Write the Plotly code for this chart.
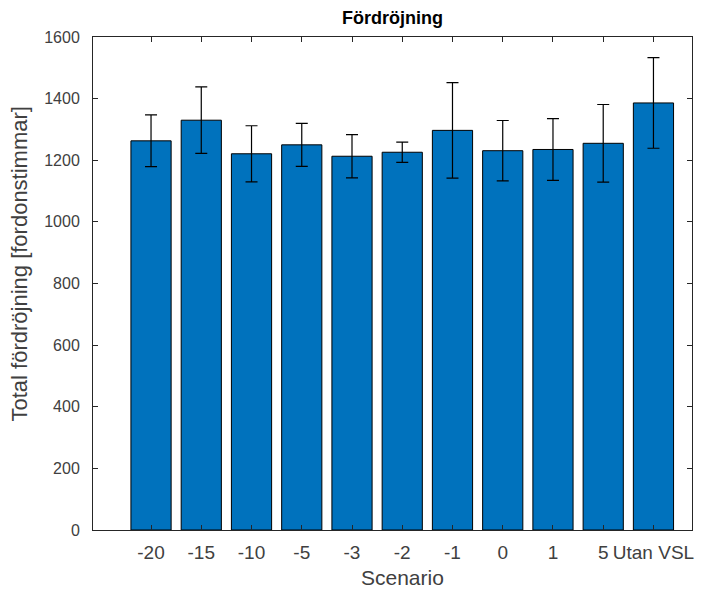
import plotly.graph_objects as go

scenarios = ["-20", "-15", "-10", "-5", "-3", "-2", "-1", "0", "1", "5", "Utan VSL"]
delay = [1263, 1330, 1221, 1250, 1213, 1226, 1297, 1231, 1235, 1255, 1386]
delay_err = [84, 108, 91, 70, 70, 33, 155, 98, 100, 126, 147]
y_ticks = [0, 200, 400, 600, 800, 1000, 1200, 1400, 1600]

axis_color = "#262626"
label_color = "#404040"
font_family = "Liberation Sans, Arial, sans-serif"

fig = go.Figure()
fig.add_trace(go.Bar(
    x=scenarios,
    y=delay,
    width=0.8,
    marker=dict(color="#0072BD", line=dict(color="black", width=1)),
    error_y=dict(type="data", array=delay_err, visible=True,
                 color="black", thickness=1.2, width=6),
    showlegend=False,
))

fig.update_layout(
    width=705, height=589,
    margin=dict(l=93, r=13, t=37, b=59),
    paper_bgcolor="white", plot_bgcolor="white",
    font=dict(family=font_family, color=label_color, size=17),
    title=dict(text="<b>Fördröjning</b>", x=0.5, xref="paper", xanchor="center",
               y=1 - 18 / 589, yref="container", yanchor="middle",
               font=dict(size=18, color="black")),
    bargap=0.2,
    annotations=[
        dict(text="Scenario", xref="paper", yref="paper", x=0.5, y=0,
             xanchor="center", yanchor="middle", xshift=10, yshift=-47,
             showarrow=False, font=dict(size=21, color=label_color)),
        dict(text="Total fördröjning [fordonstimmar]", xref="paper", yref="paper",
             x=0, y=0.5385, xanchor="center", yanchor="middle", xshift=-73,
             textangle=-90, showarrow=False, font=dict(size=22, color=label_color)),
    ],
)
fig.update_xaxes(
    type="category",
    categoryorder="array", categoryarray=scenarios,
    range=[-1.155, 10.767],
    automargin=False,
    showline=True, linecolor=axis_color, linewidth=1, mirror="allticks",
    ticks="inside", ticklen=5, tickcolor=axis_color, tickwidth=1,
    tickangle=0, showgrid=False, zeroline=False,
    tickfont=dict(size=19, color=label_color),
    ticklabelstandoff=5,
)
fig.update_yaxes(
    range=[0, 1600],
    automargin=False,
    tickvals=y_ticks, ticktext=[str(v) for v in y_ticks],
    showline=True, linecolor=axis_color, linewidth=1, mirror="allticks",
    ticks="inside", ticklen=5, tickcolor=axis_color, tickwidth=1,
    showgrid=False, zeroline=False,
    tickfont=dict(size=16, color=label_color),
    ticklabelstandoff=9,
)

fig.write_html("out.html")
